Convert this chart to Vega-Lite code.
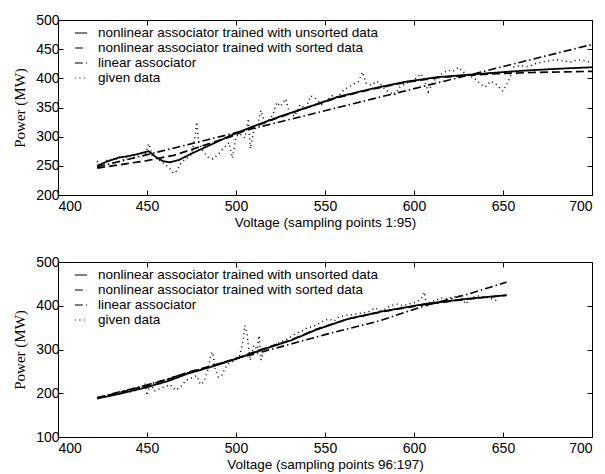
{
  "$schema": "https://vega.github.io/schema/vega-lite/v6.json",
  "background": "white",
  "padding": {"left": 12, "top": 12, "right": 5, "bottom": 5},
  "bounds": "flush",
  "spacing": 67,
  "config": {
    "view": {"stroke": "black", "strokeWidth": 1},
    "axis": {"grid": false, "domain": false, "labelFont": "Liberation Sans", "labelFontSize": 14, "labelColor": "black", "tickColor": "black", "tickSize": -5, "labelPadding": 4, "titleFont": "Liberation Sans", "titleFontWeight": "normal", "titleColor": "black", "titleFontSize": 13.5},
    "axisX": {"labelPadding": 9},
    "legend": {"labelFont": "Liberation Sans", "labelFontSize": 13.5, "labelLimit": 0, "labelColor": "black", "symbolType": "stroke", "symbolSize": 150, "symbolStrokeColor": "black", "symbolStrokeWidth": 1.2, "rowPadding": 1, "labelOffset": 10, "padding": 0}
  },
  "datasets": {
    "top": [
      {"v": 422, "P": 250, "s": "nonlinear associator trained with unsorted data"},
      {"v": 428, "P": 258, "s": "nonlinear associator trained with unsorted data"},
      {"v": 434, "P": 264, "s": "nonlinear associator trained with unsorted data"},
      {"v": 440, "P": 267, "s": "nonlinear associator trained with unsorted data"},
      {"v": 446, "P": 271, "s": "nonlinear associator trained with unsorted data"},
      {"v": 451, "P": 275, "s": "nonlinear associator trained with unsorted data"},
      {"v": 455, "P": 265, "s": "nonlinear associator trained with unsorted data"},
      {"v": 459, "P": 258, "s": "nonlinear associator trained with unsorted data"},
      {"v": 463, "P": 256, "s": "nonlinear associator trained with unsorted data"},
      {"v": 468, "P": 260, "s": "nonlinear associator trained with unsorted data"},
      {"v": 475, "P": 271, "s": "nonlinear associator trained with unsorted data"},
      {"v": 485, "P": 285, "s": "nonlinear associator trained with unsorted data"},
      {"v": 497, "P": 302, "s": "nonlinear associator trained with unsorted data"},
      {"v": 510, "P": 318, "s": "nonlinear associator trained with unsorted data"},
      {"v": 525, "P": 335, "s": "nonlinear associator trained with unsorted data"},
      {"v": 540, "P": 350, "s": "nonlinear associator trained with unsorted data"},
      {"v": 557, "P": 368, "s": "nonlinear associator trained with unsorted data"},
      {"v": 576, "P": 382, "s": "nonlinear associator trained with unsorted data"},
      {"v": 595, "P": 394, "s": "nonlinear associator trained with unsorted data"},
      {"v": 613, "P": 402, "s": "nonlinear associator trained with unsorted data"},
      {"v": 630, "P": 406, "s": "nonlinear associator trained with unsorted data"},
      {"v": 647, "P": 410, "s": "nonlinear associator trained with unsorted data"},
      {"v": 666, "P": 414, "s": "nonlinear associator trained with unsorted data"},
      {"v": 685, "P": 417, "s": "nonlinear associator trained with unsorted data"},
      {"v": 700, "P": 419, "s": "nonlinear associator trained with unsorted data"},
      {"v": 422, "P": 246, "s": "nonlinear associator trained with sorted data"},
      {"v": 435, "P": 252, "s": "nonlinear associator trained with sorted data"},
      {"v": 450, "P": 259, "s": "nonlinear associator trained with sorted data"},
      {"v": 465, "P": 268, "s": "nonlinear associator trained with sorted data"},
      {"v": 480, "P": 283, "s": "nonlinear associator trained with sorted data"},
      {"v": 497, "P": 300, "s": "nonlinear associator trained with sorted data"},
      {"v": 510, "P": 317, "s": "nonlinear associator trained with sorted data"},
      {"v": 525, "P": 334, "s": "nonlinear associator trained with sorted data"},
      {"v": 540, "P": 350, "s": "nonlinear associator trained with sorted data"},
      {"v": 557, "P": 367, "s": "nonlinear associator trained with sorted data"},
      {"v": 576, "P": 381, "s": "nonlinear associator trained with sorted data"},
      {"v": 595, "P": 393, "s": "nonlinear associator trained with sorted data"},
      {"v": 613, "P": 401, "s": "nonlinear associator trained with sorted data"},
      {"v": 630, "P": 405, "s": "nonlinear associator trained with sorted data"},
      {"v": 647, "P": 408, "s": "nonlinear associator trained with sorted data"},
      {"v": 666, "P": 410, "s": "nonlinear associator trained with sorted data"},
      {"v": 685, "P": 411, "s": "nonlinear associator trained with sorted data"},
      {"v": 700, "P": 412, "s": "nonlinear associator trained with sorted data"},
      {"v": 422, "P": 248, "s": "linear associator"},
      {"v": 560, "P": 352, "s": "linear associator"},
      {"v": 700, "P": 458, "s": "linear associator"},
      {"v": 422, "P": 258, "s": "given data"}, {"v": 425, "P": 250, "s": "given data"}, {"v": 428, "P": 262, "s": "given data"},
      {"v": 431, "P": 255, "s": "given data"}, {"v": 434, "P": 266, "s": "given data"}, {"v": 437, "P": 260, "s": "given data"},
      {"v": 440, "P": 268, "s": "given data"}, {"v": 443, "P": 264, "s": "given data"}, {"v": 446, "P": 272, "s": "given data"},
      {"v": 449, "P": 270, "s": "given data"}, {"v": 451, "P": 288, "s": "given data"}, {"v": 453, "P": 268, "s": "given data"},
      {"v": 456, "P": 262, "s": "given data"}, {"v": 459, "P": 255, "s": "given data"}, {"v": 462, "P": 248, "s": "given data"},
      {"v": 465, "P": 237, "s": "given data"}, {"v": 467, "P": 242, "s": "given data"}, {"v": 469, "P": 255, "s": "given data"},
      {"v": 472, "P": 262, "s": "given data"}, {"v": 475, "P": 270, "s": "given data"}, {"v": 477, "P": 300, "s": "given data"},
      {"v": 478, "P": 325, "s": "given data"}, {"v": 479, "P": 290, "s": "given data"}, {"v": 481, "P": 278, "s": "given data"},
      {"v": 484, "P": 265, "s": "given data"}, {"v": 487, "P": 262, "s": "given data"}, {"v": 490, "P": 270, "s": "given data"},
      {"v": 493, "P": 280, "s": "given data"}, {"v": 496, "P": 290, "s": "given data"}, {"v": 498, "P": 263, "s": "given data"},
      {"v": 500, "P": 300, "s": "given data"}, {"v": 502, "P": 305, "s": "given data"}, {"v": 505, "P": 298, "s": "given data"},
      {"v": 507, "P": 331, "s": "given data"}, {"v": 508, "P": 279, "s": "given data"}, {"v": 510, "P": 310, "s": "given data"},
      {"v": 512, "P": 318, "s": "given data"}, {"v": 514, "P": 345, "s": "given data"}, {"v": 516, "P": 325, "s": "given data"},
      {"v": 519, "P": 330, "s": "given data"}, {"v": 521, "P": 340, "s": "given data"}, {"v": 523, "P": 359, "s": "given data"},
      {"v": 525, "P": 352, "s": "given data"}, {"v": 528, "P": 365, "s": "given data"}, {"v": 530, "P": 340, "s": "given data"},
      {"v": 533, "P": 335, "s": "given data"}, {"v": 536, "P": 355, "s": "given data"}, {"v": 539, "P": 348, "s": "given data"},
      {"v": 542, "P": 370, "s": "given data"}, {"v": 545, "P": 365, "s": "given data"}, {"v": 548, "P": 355, "s": "given data"},
      {"v": 551, "P": 362, "s": "given data"}, {"v": 554, "P": 370, "s": "given data"}, {"v": 557, "P": 368, "s": "given data"},
      {"v": 560, "P": 378, "s": "given data"}, {"v": 563, "P": 385, "s": "given data"}, {"v": 566, "P": 390, "s": "given data"},
      {"v": 569, "P": 395, "s": "given data"}, {"v": 571, "P": 411, "s": "given data"}, {"v": 573, "P": 392, "s": "given data"},
      {"v": 576, "P": 388, "s": "given data"}, {"v": 579, "P": 395, "s": "given data"}, {"v": 581, "P": 391, "s": "given data"},
      {"v": 584, "P": 380, "s": "given data"}, {"v": 587, "P": 375, "s": "given data"}, {"v": 589, "P": 371, "s": "given data"},
      {"v": 592, "P": 385, "s": "given data"}, {"v": 595, "P": 390, "s": "given data"}, {"v": 598, "P": 395, "s": "given data"},
      {"v": 601, "P": 400, "s": "given data"}, {"v": 604, "P": 408, "s": "given data"}, {"v": 606, "P": 395, "s": "given data"},
      {"v": 608, "P": 377, "s": "given data"}, {"v": 611, "P": 395, "s": "given data"}, {"v": 614, "P": 405, "s": "given data"},
      {"v": 617, "P": 410, "s": "given data"}, {"v": 619, "P": 414, "s": "given data"}, {"v": 622, "P": 412, "s": "given data"},
      {"v": 625, "P": 419, "s": "given data"}, {"v": 628, "P": 410, "s": "given data"}, {"v": 631, "P": 405, "s": "given data"},
      {"v": 634, "P": 400, "s": "given data"}, {"v": 637, "P": 391, "s": "given data"}, {"v": 640, "P": 385, "s": "given data"},
      {"v": 643, "P": 395, "s": "given data"}, {"v": 646, "P": 390, "s": "given data"}, {"v": 650, "P": 378, "s": "given data"},
      {"v": 653, "P": 395, "s": "given data"}, {"v": 656, "P": 419, "s": "given data"}, {"v": 660, "P": 422, "s": "given data"},
      {"v": 664, "P": 420, "s": "given data"}, {"v": 668, "P": 425, "s": "given data"}, {"v": 672, "P": 428, "s": "given data"},
      {"v": 676, "P": 430, "s": "given data"}, {"v": 680, "P": 432, "s": "given data"}, {"v": 684, "P": 430, "s": "given data"},
      {"v": 688, "P": 428, "s": "given data"}, {"v": 692, "P": 432, "s": "given data"}, {"v": 696, "P": 430, "s": "given data"},
      {"v": 699, "P": 428, "s": "given data"}
    ],
    "bottom": [
      {"v": 422, "P": 188, "s": "nonlinear associator trained with unsorted data"},
      {"v": 435, "P": 199, "s": "nonlinear associator trained with unsorted data"},
      {"v": 450, "P": 214, "s": "nonlinear associator trained with unsorted data"},
      {"v": 462, "P": 228, "s": "nonlinear associator trained with unsorted data"},
      {"v": 473, "P": 245, "s": "nonlinear associator trained with unsorted data"},
      {"v": 485, "P": 259, "s": "nonlinear associator trained with unsorted data"},
      {"v": 499, "P": 277, "s": "nonlinear associator trained with unsorted data"},
      {"v": 515, "P": 300, "s": "nonlinear associator trained with unsorted data"},
      {"v": 531, "P": 321, "s": "nonlinear associator trained with unsorted data"},
      {"v": 545, "P": 345, "s": "nonlinear associator trained with unsorted data"},
      {"v": 563, "P": 370, "s": "nonlinear associator trained with unsorted data"},
      {"v": 582, "P": 387, "s": "nonlinear associator trained with unsorted data"},
      {"v": 606, "P": 404, "s": "nonlinear associator trained with unsorted data"},
      {"v": 630, "P": 416, "s": "nonlinear associator trained with unsorted data"},
      {"v": 652, "P": 424, "s": "nonlinear associator trained with unsorted data"},
      {"v": 422, "P": 189, "s": "nonlinear associator trained with sorted data"},
      {"v": 435, "P": 202, "s": "nonlinear associator trained with sorted data"},
      {"v": 450, "P": 218, "s": "nonlinear associator trained with sorted data"},
      {"v": 462, "P": 232, "s": "nonlinear associator trained with sorted data"},
      {"v": 473, "P": 248, "s": "nonlinear associator trained with sorted data"},
      {"v": 485, "P": 261, "s": "nonlinear associator trained with sorted data"},
      {"v": 499, "P": 278, "s": "nonlinear associator trained with sorted data"},
      {"v": 515, "P": 301, "s": "nonlinear associator trained with sorted data"},
      {"v": 531, "P": 322, "s": "nonlinear associator trained with sorted data"},
      {"v": 545, "P": 346, "s": "nonlinear associator trained with sorted data"},
      {"v": 563, "P": 370, "s": "nonlinear associator trained with sorted data"},
      {"v": 582, "P": 386, "s": "nonlinear associator trained with sorted data"},
      {"v": 606, "P": 403, "s": "nonlinear associator trained with sorted data"},
      {"v": 630, "P": 415, "s": "nonlinear associator trained with sorted data"},
      {"v": 652, "P": 424, "s": "nonlinear associator trained with sorted data"},
      {"v": 422, "P": 190, "s": "linear associator"},
      {"v": 450, "P": 219, "s": "linear associator"},
      {"v": 475, "P": 249, "s": "linear associator"},
      {"v": 500, "P": 279, "s": "linear associator"},
      {"v": 525, "P": 306, "s": "linear associator"},
      {"v": 550, "P": 334, "s": "linear associator"},
      {"v": 581, "P": 366, "s": "linear associator"},
      {"v": 606, "P": 400, "s": "linear associator"},
      {"v": 630, "P": 426, "s": "linear associator"},
      {"v": 652, "P": 454, "s": "linear associator"},
      {"v": 423, "P": 190, "s": "given data"}, {"v": 426, "P": 192, "s": "given data"}, {"v": 429, "P": 195, "s": "given data"},
      {"v": 432, "P": 198, "s": "given data"}, {"v": 435, "P": 200, "s": "given data"}, {"v": 438, "P": 204, "s": "given data"},
      {"v": 441, "P": 203, "s": "given data"}, {"v": 444, "P": 208, "s": "given data"}, {"v": 447, "P": 215, "s": "given data"},
      {"v": 449, "P": 222, "s": "given data"}, {"v": 450, "P": 195, "s": "given data"}, {"v": 452, "P": 226, "s": "given data"},
      {"v": 454, "P": 205, "s": "given data"}, {"v": 457, "P": 210, "s": "given data"}, {"v": 460, "P": 215, "s": "given data"},
      {"v": 463, "P": 220, "s": "given data"}, {"v": 466, "P": 207, "s": "given data"}, {"v": 469, "P": 215, "s": "given data"},
      {"v": 472, "P": 230, "s": "given data"}, {"v": 475, "P": 235, "s": "given data"}, {"v": 478, "P": 240, "s": "given data"},
      {"v": 480, "P": 220, "s": "given data"}, {"v": 482, "P": 226, "s": "given data"}, {"v": 484, "P": 250, "s": "given data"},
      {"v": 486, "P": 290, "s": "given data"}, {"v": 487, "P": 294, "s": "given data"}, {"v": 488, "P": 260, "s": "given data"},
      {"v": 490, "P": 237, "s": "given data"}, {"v": 492, "P": 241, "s": "given data"}, {"v": 494, "P": 258, "s": "given data"},
      {"v": 496, "P": 268, "s": "given data"}, {"v": 498, "P": 272, "s": "given data"}, {"v": 500, "P": 280, "s": "given data"},
      {"v": 502, "P": 285, "s": "given data"}, {"v": 504, "P": 320, "s": "given data"}, {"v": 505, "P": 355, "s": "given data"},
      {"v": 506, "P": 340, "s": "given data"}, {"v": 508, "P": 275, "s": "given data"}, {"v": 510, "P": 310, "s": "given data"},
      {"v": 512, "P": 300, "s": "given data"}, {"v": 513, "P": 332, "s": "given data"}, {"v": 514, "P": 276, "s": "given data"},
      {"v": 516, "P": 300, "s": "given data"}, {"v": 519, "P": 305, "s": "given data"}, {"v": 522, "P": 312, "s": "given data"},
      {"v": 525, "P": 318, "s": "given data"}, {"v": 528, "P": 322, "s": "given data"}, {"v": 531, "P": 330, "s": "given data"},
      {"v": 534, "P": 338, "s": "given data"}, {"v": 537, "P": 342, "s": "given data"}, {"v": 540, "P": 350, "s": "given data"},
      {"v": 543, "P": 352, "s": "given data"}, {"v": 546, "P": 358, "s": "given data"}, {"v": 549, "P": 365, "s": "given data"},
      {"v": 552, "P": 370, "s": "given data"}, {"v": 555, "P": 365, "s": "given data"}, {"v": 558, "P": 375, "s": "given data"},
      {"v": 562, "P": 378, "s": "given data"}, {"v": 566, "P": 380, "s": "given data"}, {"v": 570, "P": 383, "s": "given data"},
      {"v": 574, "P": 385, "s": "given data"}, {"v": 578, "P": 395, "s": "given data"}, {"v": 582, "P": 388, "s": "given data"},
      {"v": 586, "P": 398, "s": "given data"}, {"v": 590, "P": 404, "s": "given data"}, {"v": 594, "P": 400, "s": "given data"},
      {"v": 598, "P": 405, "s": "given data"}, {"v": 601, "P": 408, "s": "given data"}, {"v": 604, "P": 415, "s": "given data"},
      {"v": 606, "P": 431, "s": "given data"}, {"v": 607, "P": 397, "s": "given data"}, {"v": 609, "P": 410, "s": "given data"},
      {"v": 612, "P": 412, "s": "given data"}, {"v": 615, "P": 418, "s": "given data"}, {"v": 619, "P": 416, "s": "given data"},
      {"v": 622, "P": 420, "s": "given data"}, {"v": 626, "P": 424, "s": "given data"}, {"v": 629, "P": 404, "s": "given data"},
      {"v": 632, "P": 418, "s": "given data"}, {"v": 636, "P": 422, "s": "given data"}, {"v": 640, "P": 420, "s": "given data"},
      {"v": 644, "P": 415, "s": "given data"}, {"v": 648, "P": 410, "s": "given data"}
    ]
  },
  "resolve": {"legend": {"strokeDash": "independent"}},
  "vconcat": [
    {
      "width": 534,
      "height": 175,
      "data": {"name": "top"},
      "resolve": {"axis": {"x": "independent", "y": "independent"}},
      "layer": [
        {
          "mark": {"type": "line", "color": "black"},
          "encoding": {
            "x": {"field": "v", "type": "quantitative", "scale": {"domain": [400, 700], "nice": false, "zero": false}, "axis": {"values": [400, 450, 500, 550, 600, 650, 700], "title": "Voltage (sampling points 1:95)", "titlePadding": 2}},
            "y": {"field": "P", "type": "quantitative", "scale": {"domain": [200, 500], "nice": false, "zero": false}, "axis": {"values": [200, 250, 300, 350, 400, 450, 500], "title": "Power (MW)", "titleFont": "Liberation Serif", "titleFontSize": 15, "titlePadding": 8}},
            "strokeDash": {"field": "s", "type": "nominal", "scale": {"domain": ["nonlinear associator trained with unsorted data", "nonlinear associator trained with sorted data", "linear associator", "given data"], "range": [[1, 0], [8, 4], [8, 3, 1.5, 3], [1, 3.5]]}, "legend": {"title": null, "orient": "none", "legendX": 16, "legendY": 6}},
            "strokeWidth": {"field": "s", "type": "nominal", "scale": {"domain": ["nonlinear associator trained with unsorted data", "nonlinear associator trained with sorted data", "linear associator", "given data"], "range": [1.8, 1.5, 1.2, 1.1]}, "legend": null}
          }
        },
        {
          "mark": {"type": "point", "opacity": 0},
          "encoding": {
            "x": {"field": "v", "type": "quantitative", "axis": {"orient": "top", "values": [400, 450, 500, 550, 600, 650, 700], "labels": false, "title": null}},
            "y": {"field": "P", "type": "quantitative", "axis": {"orient": "right", "values": [200, 250, 300, 350, 400, 450, 500], "labels": false, "title": null}}
          }
        }
      ]
    },
    {
      "width": 534,
      "height": 175,
      "data": {"name": "bottom"},
      "resolve": {"axis": {"x": "independent", "y": "independent"}},
      "layer": [
        {
          "mark": {"type": "line", "color": "black"},
          "encoding": {
            "x": {"field": "v", "type": "quantitative", "scale": {"domain": [400, 700], "nice": false, "zero": false}, "axis": {"values": [400, 450, 500, 550, 600, 650, 700], "title": "Voltage (sampling points 96:197)", "titlePadding": 2}},
            "y": {"field": "P", "type": "quantitative", "scale": {"domain": [100, 500], "nice": false, "zero": false}, "axis": {"values": [100, 200, 300, 400, 500], "title": "Power (MW)", "titleFont": "Liberation Serif", "titleFontSize": 15, "titlePadding": 8}},
            "strokeDash": {"field": "s", "type": "nominal", "scale": {"domain": ["nonlinear associator trained with unsorted data", "nonlinear associator trained with sorted data", "linear associator", "given data"], "range": [[1, 0], [8, 4], [8, 3, 1.5, 3], [1, 3.5]]}, "legend": {"title": null, "orient": "none", "legendX": 16, "legendY": 6}},
            "strokeWidth": {"field": "s", "type": "nominal", "scale": {"domain": ["nonlinear associator trained with unsorted data", "nonlinear associator trained with sorted data", "linear associator", "given data"], "range": [1.8, 1.5, 1.2, 1.1]}, "legend": null}
          }
        },
        {
          "mark": {"type": "point", "opacity": 0},
          "encoding": {
            "x": {"field": "v", "type": "quantitative", "axis": {"orient": "top", "values": [400, 450, 500, 550, 600, 650, 700], "labels": false, "title": null}},
            "y": {"field": "P", "type": "quantitative", "axis": {"orient": "right", "values": [100, 200, 300, 400, 500], "labels": false, "title": null}}
          }
        }
      ]
    }
  ]
}
